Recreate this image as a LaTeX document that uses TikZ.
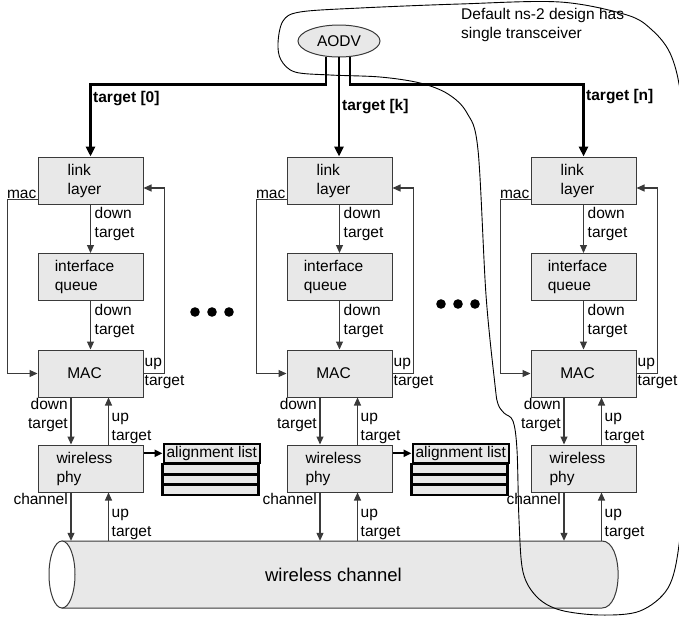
\documentclass[tikz,border=0pt]{standalone}
\usepackage{fontspec}
\setmainfont{Liberation Sans}
\usetikzlibrary{arrows.meta,positioning,shapes.geometric,calc}
\definecolor{BoxGray}{HTML}{E8E8E8}
\definecolor{EdgeGray}{HTML}{3A3A3A}

\begin{document}
\begin{tikzpicture}[x=1pt,y=-1pt,>={Triangle[length=8pt,width=7pt]},
    every node/.style={font=\fontsize{15.5}{19}\selectfont},
    layerbox/.style={draw=EdgeGray, fill=BoxGray, line width=1pt, minimum width=105pt, minimum height=47pt, inner sep=0pt},
    boxtext/.style={align=left, inner sep=0pt, xshift=-6pt},
    conn/.style={->, draw=EdgeGray, line width=1.1pt},
    tgt/.style={-{Triangle[length=10pt,width=9pt]}, line width=2.8pt},
    tlbl/.style={font=\fontsize{15.5}{19}\selectfont\bfseries, inner sep=1pt},
    lbl/.style={inner sep=1pt},
    listhead/.style={draw, line width=2.6pt, fill=BoxGray, minimum width=96pt, minimum height=19pt, inner sep=0pt},
    listrow/.style={draw, line width=2.6pt, fill=BoxGray}]
  \useasboundingbox (0,0) rectangle (679,616);

  % routing agent
  \node[ellipse, draw=EdgeGray, fill=BoxGray, line width=1pt, minimum width=82pt, minimum height=32pt, inner sep=0pt] (aodv) at (339,41) {AODV};
  \node[align=left, anchor=west, inner sep=0pt] (note) at (461,24.5) {Default ns-2 design has\\single transceiver};

  % shared medium
  \filldraw[draw=EdgeGray, fill=BoxGray, line width=1pt]
    (62,541) -- (602,541) .. controls (623.5,541) and (623.5,608) .. (602,608) -- (62,608) -- cycle;
  \filldraw[draw=EdgeGray, fill=white, line width=1pt] (62,574.5) ellipse [x radius=13pt, y radius=33.5pt];
  \node[minimum width=569pt, minimum height=67pt, inner sep=0pt,
        font=\fontsize{18.5}{22}\selectfont] (chan) at (333.5,574.5) {wireless channel};

  % one protocol stack per interface
  \foreach \c/\dx in {1/0,2/249,3/493} {
    \node[layerbox, label={[boxtext]center:{link\\layer}}] (ll\c) at (90.5+\dx,180.5) {};
    \node[layerbox, label={[boxtext]center:{interface\\queue}}] (iq\c) at (90.5+\dx,277) {};
    \node[layerbox, label={[boxtext]center:{MAC}}] (mac\c) at (90.5+\dx,373.5) {};
    \node[layerbox, label={[boxtext]center:{wireless\\phy}}] (phy\c) at (90.5+\dx,468.5) {};

    \draw[conn] (ll\c) -- (iq\c);
    \node[lbl, align=left, anchor=north west] (dn\c) at ([xshift=3pt,yshift=-2pt]ll\c.south) {down\\target};
    \draw[conn] (iq\c) -- (mac\c);
    \node[lbl, align=left, anchor=north west] (dq\c) at ([xshift=3pt,yshift=-2pt]iq\c.south) {down\\target};

    \coordinate (macout\c) at ([yshift=5pt]ll\c.south west);
    \draw[conn] (macout\c) -- ++(-30,0) |- (mac\c.west);
    \node[lbl, anchor=south east] (ml\c) at (macout\c) {mac};
    \draw[conn] (mac\c.east) -- ++(21,0) |- ([yshift=-7.5pt]ll\c.east);
    \node[lbl, align=left, anchor=west] (mu\c) at (mac\c.east) {up\\target};

    \coordinate (dw\c) at ([xshift=-19.5pt]mac\c.south);
    \coordinate (uw\c) at ([xshift=18pt]mac\c.south);
    \draw[conn] (dw\c) -- (dw\c |- phy\c.north);
    \draw[conn] (uw\c |- phy\c.north) -- (uw\c);
    \node[lbl, align=right, anchor=north east, xshift=-2pt] (pd\c) at (dw\c) {down\\target};
    \node[lbl, align=left, anchor=south west, xshift=2pt] (pu\c) at (uw\c |- phy\c.north) {up\\target};

    \draw[conn] (dw\c |- phy\c.south) -- (dw\c |- chan.north);
    \draw[conn] (uw\c |- chan.north) -- (uw\c |- phy\c.south);
    \node[lbl, anchor=north east, xshift=-2pt] (ch\c) at (dw\c |- phy\c.south) {channel};
    \node[lbl, align=left, anchor=south west, xshift=2pt] (cu\c) at (uw\c |- chan.north) {up\\target};
  }

  % alignment lists
  \foreach \c in {1,2} {
    \node[listhead, anchor=north west] (al\c) at ([xshift=19pt,yshift=2pt]phy\c.north east) {alignment list};
    \foreach \r in {0,1,2}
      \draw[listrow] ($(al\c.south west)+(0,10.3*\r)$) rectangle ++(96,10.3);
    \draw[->, line width=2.2pt] (phy\c.east |- al\c.west) -- (al\c.west);
  }

  % targets from the routing agent
  \draw[tgt] ([xshift=-13pt,yshift=1pt]aodv.south) -- ++(0,28) -| (ll1.north);
  \draw[tgt] ([yshift=1pt]aodv.south) -- (aodv.south |- ll2.north);
  \draw[tgt] ([xshift=11pt,yshift=1pt]aodv.south) -- ++(0,28) -| (ll3.north);
  \node[tlbl, anchor=west] (t0) at (92,99) {target [0]};
  \node[tlbl, anchor=west] (tk) at (341,107) {target [k]};
  \node[tlbl, anchor=west] (tn) at (585,97) {target [n]};

  \foreach \px/\py in {195/312,212/312,229/312,441/304,458/304,475/304}
    \fill (\px,\py) circle (4.8pt);

  % outline of the single transceiver
  \draw[line width=0.9pt] plot[smooth cycle, tension=0.55] coordinates {
    (278,43) (283,21) (300,12) (360,8) (460,4) (560,2) (627,15) (652,30) (670,53) (680,90)
    (686,160) (688,320) (684,470) (679,545) (668,588) (640,611) (600,615) (560,610) (537,597)
    (523,572) (519,520) (517,450) (513,421) (504,413) (498,404) (495,385) (486,295) (478,150)
    (467,113) (448,94) (420,83) (380,77) (330,75) (295,72) (281,60)};
\end{tikzpicture}
\end{document}
